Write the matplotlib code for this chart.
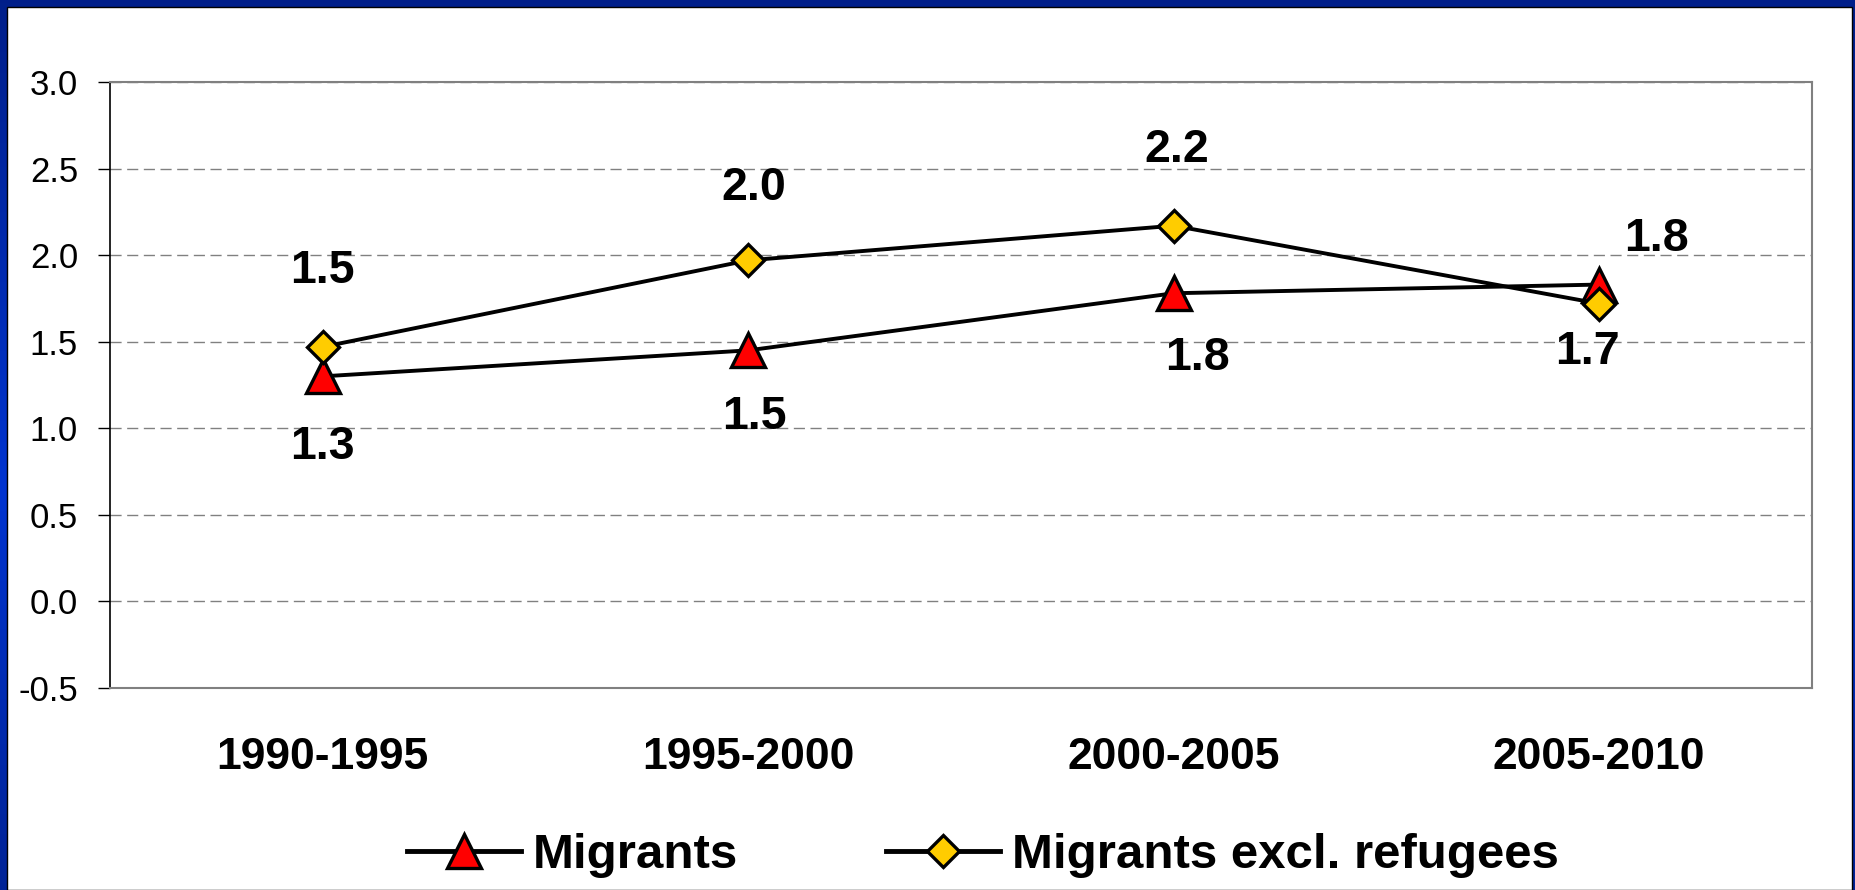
import numpy as np
import matplotlib
matplotlib.use("Agg")
import matplotlib.pyplot as plt
from matplotlib.patches import Rectangle
from matplotlib.lines import Line2D

# ─── Data ──────────────────────────────────────────────────────────
periods = ["1990-1995", "1995-2000", "2000-2005", "2005-2010"]
migrants = [1.30, 1.45, 1.78, 1.83]
migrants_excl = [1.47, 1.97, 2.17, 1.72]
migrants_lbl = ["1.3", "1.5", "1.8", "1.8"]
excl_lbl = ["1.5", "2.0", "2.2", "1.7"]

# label offsets (pixels) relative to each marker
mig_off = [(0, -71), (6, -67), (24, -65), (57, 46)]
exc_off = [(0, 76), (6, 72), (3, 76), (-12, -48)]

plt.rcParams["font.family"] = ["Liberation Sans", "DejaVu Sans"]
plt.rcParams["axes.unicode_minus"] = False

W, H = 1856, 890
fig = plt.figure(figsize=(W / 100, H / 100), dpi=100)

# blue frame with gradient
bg = fig.add_axes([0, 0, 1, 1], zorder=-10)
grad = np.linspace(0, 1, 256)
prof = np.clip(1 - np.abs(grad - 0.55) * 1.6, 0, 1)
c_dark = np.array([0x00, 0x1c, 0x80]) / 255
c_light = np.array([0x00, 0x34, 0xd0]) / 255
img = c_dark[None, None, :] + (c_light - c_dark)[None, None, :] * prof[:, None, None]
bg.imshow(img, aspect="auto", extent=[0, 1, 0, 1])
bg.add_patch(Rectangle((7 / W, 0), (1852 - 7) / W, 1 - 7 / H,
                       facecolor="white", edgecolor="black", linewidth=1))
bg.set_xlim(0, 1)
bg.set_ylim(0, 1)
bg.axis("off")

ax = fig.add_axes([110 / W, 1 - 688 / H, (1812 - 110) / W, (688 - 82) / H])
ax.set_facecolor("none")
x = np.arange(len(periods))

ax.plot(x, migrants, color="black", linewidth=2.8, marker="^", markersize=24,
        markerfacecolor="#FF0000", markeredgecolor="black", markeredgewidth=2.4,
        label="Migrants", zorder=4)
ax.plot(x, migrants_excl, color="black", linewidth=2.8, marker="D", markersize=16,
        markerfacecolor="#FFCC00", markeredgecolor="black", markeredgewidth=2.4,
        label="Migrants excl. refugees", zorder=5)

for xi, v, t, off in zip(x, migrants, migrants_lbl, mig_off):
    ax.annotate(t, (xi, v), xytext=off, textcoords="offset pixels",
                ha="center", va="center", fontsize=33.5, fontweight="bold")
for xi, v, t, off in zip(x, migrants_excl, excl_lbl, exc_off):
    ax.annotate(t, (xi, v), xytext=off, textcoords="offset pixels",
                ha="center", va="center", fontsize=33.5, fontweight="bold")

ax.set_xlim(-0.5, 3.5)
ax.set_ylim(-0.5, 3.0)
ax.set_yticks(np.arange(-0.5, 3.01, 0.5))
ax.set_yticklabels([f"{v:.1f}" for v in np.arange(-0.5, 3.01, 0.5)], fontsize=25)
ax.set_xticks(x)
ax.set_xticklabels(periods, fontsize=32, fontweight="bold")
ax.tick_params(axis="y", length=9, width=1, pad=14, direction="out")
ax.tick_params(axis="x", length=0, pad=35)
ax.yaxis.grid(True, color="#808080", linestyle=(0, (8, 4)), linewidth=1)
ax.set_axisbelow(True)

ax.spines["left"].set_color("black")
ax.spines["left"].set_linewidth(1.2)
for s in ["top", "right", "bottom"]:
    ax.spines[s].set_color("#808080")
    ax.spines[s].set_linewidth(1.5)

handles = [
    Line2D([], [], color="black", linewidth=3.5, marker="^", markersize=24,
           markerfacecolor="#FF0000", markeredgecolor="black", markeredgewidth=2.4),
    Line2D([], [], color="black", linewidth=3.5, marker="D", markersize=16,
           markerfacecolor="#FFCC00", markeredgecolor="black", markeredgewidth=2.4),
]
fig.legend(handles, ["Migrants", "Migrants excl. refugees"], loc="center",
           bbox_to_anchor=(983 / W, 1 - 856 / H), ncol=2, frameon=False,
           prop={"size": 35.5, "weight": "bold"}, handlelength=2.3,
           handletextpad=0.25, columnspacing=3.0)

fig.savefig("out.png", dpi=100)
